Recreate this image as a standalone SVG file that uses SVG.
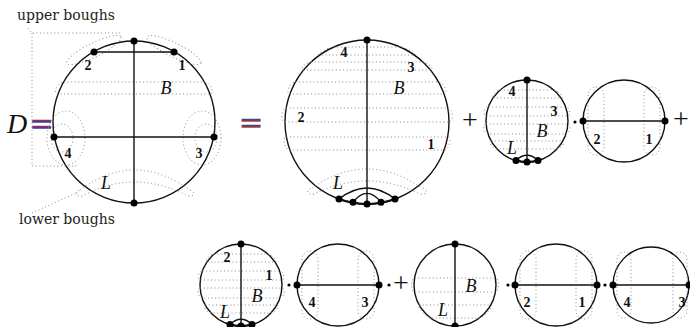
<svg xmlns="http://www.w3.org/2000/svg" width="690" height="327" viewBox="0 0 690 327">
<style>
.c{fill:none;stroke:#111;stroke-width:1.4}
.ch{stroke:#111;stroke-width:1.4;fill:none}
.th{fill:none;stroke:#111;stroke-width:2.2}
.d{fill:none;stroke:#888;stroke-width:1;stroke-dasharray:1 2.6}
.nd{fill:#000}
.n{font-family:"Liberation Serif",serif;font-weight:bold;font-size:14px;text-anchor:middle;fill:#111}
.v{font-family:"Liberation Serif",serif;font-style:italic;font-size:18px;text-anchor:middle;fill:#111}
.w{font-family:"DejaVu Serif",serif;font-size:14px;fill:#222}
.op{font-family:"Liberation Serif",serif;font-size:28px;text-anchor:middle;fill:#111}
.eq{font-family:"DejaVu Serif",serif;font-size:30px;text-anchor:middle}
</style>
<rect width="690" height="327" fill="#fff"/>

<g id="labels">
<text class="w" x="17" y="20">upper boughs</text>
<text class="w" x="19" y="224">lower boughs</text>
<text x="7" y="133" font-family="Liberation Serif,serif" font-style="italic" font-size="28" fill="#111">D</text>
<text class="eq" x="41.5" y="133" fill="#b02848">=</text>
<text class="eq" x="41.5" y="134" fill="#2840a8" opacity="0.75">=</text>
<text class="eq" x="251" y="131.5" fill="#2848b0">=</text>
<text class="eq" x="251" y="132.5" fill="#a83828" opacity="0.75">=</text>
<text class="op" x="470" y="129">+</text>
<text class="op" x="681" y="128">+</text>
<text class="op" x="401" y="292">+</text>
</g>

<g id="connectors">
<path class="d" d="M28,28 L32,33 H122 M32,33 V166 H79 M32,213 L78,192"/>
</g>

<g id="D">
<circle class="c" cx="134" cy="122" r="81"/>
<ellipse class="d" cx="94" cy="50" rx="30" ry="7" transform="rotate(-26 94 50)"/>
<ellipse class="d" cx="174" cy="50" rx="30" ry="7" transform="rotate(26 174 50)"/>
<path class="d" d="M64,82 H204 C210,82 216,94 210,94 H58 C52,94 58,82 64,82 Z"/>
<ellipse class="d" cx="66" cy="138" rx="19" ry="27"/>
<ellipse class="d" cx="62" cy="138" rx="11" ry="14"/>
<ellipse class="d" cx="202" cy="138" rx="19" ry="27"/>
<ellipse class="d" cx="206" cy="138" rx="11" ry="14"/>
<path class="d" d="M80,190 Q134,150 190,190 C196,192 194,197 188,196 Q134,168 82,196 C76,197 74,192 80,190 Z"/>
<line class="ch" x1="94" y1="52" x2="174" y2="52"/>
<line class="ch" x1="134" y1="41" x2="134" y2="203"/>
<line class="ch" x1="54" y1="137" x2="214" y2="137"/>
<circle class="nd" cx="134" cy="41" r="3.5"/><circle class="nd" cx="134" cy="203" r="3.5"/>
<circle class="nd" cx="94" cy="52" r="3.5"/><circle class="nd" cx="174" cy="52" r="3.5"/>
<circle class="nd" cx="54" cy="137" r="3.5"/><circle class="nd" cx="214" cy="137" r="3.5"/>
<text class="n" x="88" y="70">2</text><text class="n" x="182" y="70">1</text>
<text class="n" x="68" y="158">4</text><text class="n" x="199" y="158">3</text>
<text class="v" x="166" y="94">B</text><text class="v" x="106" y="189">L</text>
</g>

<g id="big">
<circle class="c" cx="367" cy="122" r="82"/>
<path class="d" d="M333.8,47 H400.2 C405.2,47 419.3,55 414.3,55 H319.7 C314.7,55 328.8,47 333.8,47 Z"/>
<path class="d" d="M311.1,62 H422.9 C427.9,62 435.4,70 430.4,70 H303.6 C298.6,70 306.1,62 311.1,62 Z"/>
<path class="d" d="M295.4,82 H438.6 C443.6,82 449.1,94 444.1,94 H289.9 C284.9,94 290.4,82 295.4,82 Z"/>
<path class="d" d="M286.2,108 H447.8 C452.8,108 454,122 449,122 H285 C280,122 281.2,108 286.2,108 Z"/>
<path class="d" d="M286.4,137 H447.6 C452.6,137 449.1,150 444.1,150 H289.9 C284.9,150 281.4,137 286.4,137 Z"/>
<path class="d" d="M312,188 Q367,150 422,188 C428,190 428,195 420,194 Q367,168 314,194 C306,195 306,190 312,188 Z"/>
<line class="ch" x1="367" y1="40" x2="367" y2="204"/>
<path class="th" d="M339,199 A82,82 0 0 0 395,199"/>
<path class="ch" d="M339,199 Q367,177 395,199 M353,202.3 Q367,184.5 381,202.3"/>
<circle class="nd" cx="367" cy="40" r="3.5"/>
<circle class="nd" cx="339" cy="199" r="3.5"/><circle class="nd" cx="353" cy="202.3" r="3.5"/>
<circle class="nd" cx="367" cy="204" r="3.5"/><circle class="nd" cx="381" cy="202.3" r="3.5"/>
<circle class="nd" cx="395" cy="199" r="3.5"/>
<text class="n" x="344" y="57">4</text><text class="n" x="411" y="72">3</text>
<text class="v" x="399" y="94">B</text><text class="n" x="301" y="122">2</text>
<text class="n" x="431" y="149">1</text><text class="v" x="338" y="189">L</text>
</g>

<g id="s1">
<circle class="c" cx="527" cy="121" r="41"/>
<path class="d" d="M500.2,90 H553.8 C557.8,90 564.9,98 560.9,98 H493.1 C489.1,98 496.2,90 500.2,90 Z"/>
<path class="d" d="M488.5,107 H565.5 C569.5,107 571.7,116 567.7,116 H486.3 C482.3,116 484.5,107 488.5,107 Z"/>
<path class="d" d="M486.1,124 H567.9 C571.9,124 569.9,134 565.9,134 H488.1 C484.1,134 482.1,124 486.1,124 Z"/>
<path class="d" d="M491.2,141 H562.8 C566.8,141 560.9,149 556.9,149 H497.1 C493.1,149 487.2,141 491.2,141 Z"/>
<line class="ch" x1="527" y1="80" x2="527" y2="162"/>
<path class="th" d="M516,160.5 A41,41 0 0 0 538,160.5"/>
<path class="ch" d="M516,160.5 Q527,150 538,160.5"/>
<circle class="nd" cx="527" cy="80" r="3.5"/>
<circle class="nd" cx="516" cy="160.5" r="3.5"/><circle class="nd" cx="527" cy="162" r="3.5"/><circle class="nd" cx="538" cy="160.5" r="3.5"/>
<text class="n" x="512" y="96">4</text><text class="n" x="554" y="116">3</text>
<text class="v" x="542" y="137">B</text><text class="v" x="512" y="154">L</text>
<circle class="nd" cx="575" cy="122" r="1.6"/>
</g>

<g id="s2">
<circle class="c" cx="624" cy="121" r="41"/>
<rect class="d" x="588" y="87" width="16" height="68" rx="8"/>
<rect class="d" x="644" y="87" width="16" height="68" rx="8"/>
<line class="ch" x1="583" y1="121" x2="665" y2="121"/>
<circle class="nd" cx="583" cy="121" r="3.5"/><circle class="nd" cx="665" cy="121" r="3.5"/>
<text class="n" x="597" y="144">2</text><text class="n" x="649" y="144">1</text>
</g>

<g id="a">
<circle class="c" cx="241" cy="285" r="41"/>
<path class="d" d="M214.2,254 H267.8 C271.8,254 278.9,262 274.9,262 H207.1 C203.1,262 210.2,254 214.2,254 Z"/>
<path class="d" d="M202.5,271 H279.5 C283.5,271 285.7,280 281.7,280 H200.3 C196.3,280 198.5,271 202.5,271 Z"/>
<path class="d" d="M200.1,288 H281.9 C285.9,288 283.9,298 279.9,298 H202.1 C198.1,298 196.1,288 200.1,288 Z"/>
<path class="d" d="M205.2,305 H276.8 C280.8,305 274.9,313 270.9,313 H211.1 C207.1,313 201.2,305 205.2,305 Z"/>
<line class="ch" x1="241" y1="244" x2="241" y2="326"/>
<path class="th" d="M230,324.5 A41,41 0 0 0 252,324.5"/>
<path class="ch" d="M230,324.5 Q241,314 252,324.5"/>
<circle class="nd" cx="241" cy="244" r="3.5"/>
<circle class="nd" cx="230" cy="324.5" r="3.5"/><circle class="nd" cx="241" cy="326" r="3.5"/><circle class="nd" cx="252" cy="324.5" r="3.5"/>
<text class="n" x="227" y="262">2</text><text class="n" x="269" y="280">1</text>
<text class="v" x="257" y="302">B</text><text class="v" x="225" y="318">L</text>
<circle class="nd" cx="289" cy="285" r="1.6"/>
</g>

<g id="b">
<circle class="c" cx="338" cy="285" r="41"/>
<rect class="d" x="302" y="251" width="16" height="68" rx="8"/>
<rect class="d" x="358" y="251" width="16" height="68" rx="8"/>
<line class="ch" x1="297" y1="285" x2="379" y2="285"/>
<circle class="nd" cx="297" cy="285" r="3.5"/><circle class="nd" cx="379" cy="285" r="3.5"/>
<text class="n" x="312" y="307">4</text><text class="n" x="365" y="307">3</text>
<circle class="nd" cx="389" cy="285" r="1.6"/>
</g>

<g id="c">
<circle class="c" cx="455" cy="285" r="41"/>
<path class="d" d="M414.6,278 H495.4 C499.4,278 499.4,292 495.4,292 H414.6 C410.6,292 410.6,278 414.6,278 Z"/>
<path class="d" d="M419.2,305 H490.8 C494.8,305 483.3,318 479.3,318 H430.7 C426.7,318 415.2,305 419.2,305 Z"/>
<line class="ch" x1="455" y1="244" x2="455" y2="326"/>
<circle class="nd" cx="455" cy="244" r="3.5"/><circle class="nd" cx="455" cy="326" r="3.5"/>
<text class="v" x="471" y="292">B</text><text class="v" x="443" y="316">L</text>
<circle class="nd" cx="508" cy="285" r="1.6"/>
</g>

<g id="dd">
<circle class="c" cx="556" cy="285" r="41"/>
<rect class="d" x="520" y="251" width="16" height="68" rx="8"/>
<rect class="d" x="576" y="251" width="16" height="68" rx="8"/>
<line class="ch" x1="515" y1="285" x2="597" y2="285"/>
<circle class="nd" cx="515" cy="285" r="3.5"/><circle class="nd" cx="597" cy="285" r="3.5"/>
<text class="n" x="527" y="307">2</text><text class="n" x="582" y="307">1</text>
<circle class="nd" cx="605" cy="285" r="1.6"/>
</g>

<g id="e">
<circle class="c" cx="651" cy="285" r="38"/>
<rect class="d" x="617" y="252" width="14" height="66" rx="7"/>
<rect class="d" x="673" y="252" width="14" height="66" rx="7"/>
<line class="ch" x1="613" y1="285" x2="689" y2="285"/>
<circle class="nd" cx="613" cy="285" r="3.5"/><circle class="nd" cx="689" cy="285" r="3.5"/>
<text class="n" x="627" y="307">4</text><text class="n" x="682" y="307">3</text>
</g>
</svg>
